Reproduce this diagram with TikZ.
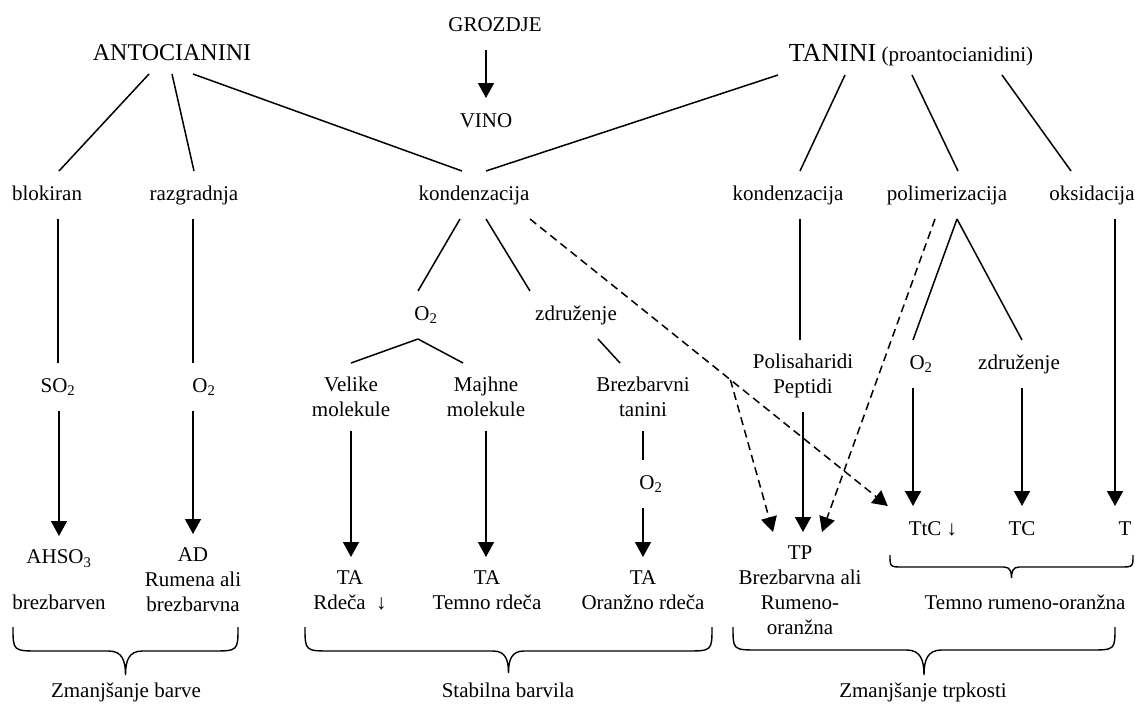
\documentclass[tikz,border=0pt]{standalone}
\usepackage{fontspec}
\setmainfont{Liberation Serif}
\usetikzlibrary{arrows.meta}
% zaviti oklepaj: x1, x2, vrh, sredina, konica
\newcommand{\oklepaj}[5]{%
	\pgfmathsetmacro\okS{(#1+#2)/2}
	\pgfmathsetmacro\okR{1.1*(#4-#3)}
	\pgfmathsetmacro\okQ{0.7*(#5-#4)}
	\draw[zavit] (#1,#3) .. controls (#1,#4) .. ({#1+\okR},#4) -- ({\okS-\okQ},#4)
		.. controls ({\okS-0.2*\okQ},#4) and (\okS,{#4+0.4*(#5-#4)}) .. (\okS,#5)
		.. controls (\okS,{#4+0.4*(#5-#4)}) and ({\okS+0.2*\okQ},#4) .. ({\okS+\okQ},#4)
		-- ({#2-\okR},#4) .. controls (#2,#4) .. (#2,#3);}
\begin{document}
\begin{tikzpicture}[x=1pt,y=-1pt,line width=1.5pt,
	every node/.style={font=\fontsize{21}{25}\selectfont,inner sep=0pt,outer xsep=0pt,outer ysep=14pt},
	lbl/.style={anchor=base,text height=15pt,text depth=5pt}, % ena vrstica
	blk/.style={anchor=north,align=center}, % vec vrstic
	puscica/.style={-{Triangle[width=16pt,length=15pt]}},
	crtkano/.style={dash pattern=on 8pt off 5pt},
	zavit/.style={line width=1.4pt}]
	\useasboundingbox (0,0) rectangle (1135,707);
	% vrh
	\node[lbl] (groz) at (495,31) {GROZDJE};
	\node[lbl] (vino) at (486,127) {VINO};
	\node[lbl,text depth=0pt,font=\fontsize{24}{28}\selectfont] (ant) at (172,60) {ANTOCIANINI};
	\node[lbl,text depth=0pt] (tan) at (911,61) {{\fontsize{26}{30}\selectfont TANINI} (proantocianidini)};
	% prva raven
	\node[lbl] (blok) at (47,200) {blokiran};
	\node[lbl] (razg) at (194,200) {razgradnja};
	\node[lbl] (kondA) at (474,200) {kondenzacija};
	\node[lbl] (kondT) at (788,200) {kondenzacija};
	\node[lbl] (polim) at (947,200) {polimerizacija};
	\node[lbl] (oks) at (1092,200) {oksidacija};
	% druga raven
	\node[lbl] (so2) at (58,392) {SO\textsubscript{2}};
	\node[lbl] (o2a) at (204,392) {O\textsubscript{2}};
	\node[lbl] (o2b) at (426,320) {O\textsubscript{2}};
	\node[lbl] (zdr) at (576,320) {združenje};
	\node[blk] (vel) at (351,363) {Velike\\molekule};
	\node[blk] (maj) at (486,363) {Majhne\\molekule};
	\node[blk] (brez) at (643,363) {Brezbarvni\\tanini};
	\node[lbl] (o2d) at (651,489) {O\textsubscript{2}};
	\node[blk] (poli) at (803,340) {Polisaharidi\\Peptidi};
	\node[lbl] (o2c) at (921,369) {O\textsubscript{2}};
	\node[lbl] (zdr2) at (1019,369) {združenje};
	% produkti
	\node[blk] (ahso) at (59,536) {AHSO\textsubscript{3}\\[21pt]brezbarven};
	\node[blk] (ad) at (193,534) {AD\\Rumena ali\\brezbarvna};
	\node[blk] (ta1) at (350,557) {TA\\Rdeča~~↓};
	\node[blk] (ta2) at (487,557) {TA\\Temno rdeča};
	\node[blk] (ta3) at (643,557) {TA\\Oranžno rdeča};
	\node[blk] (tp) at (800,532) {TP\\Brezbarvna ali\\Rumeno-\\oranžna};
	\node[lbl] (ttc) at (933,535) {TtC ↓};
	\node[lbl] (tc) at (1022,535) {TC};
	\node[lbl] (tt) at (1125,535) {T};
	\node[lbl] (temno) at (1025,609) {Temno rumeno-oranžna};
	\node[lbl] (zb) at (126,697) {Zmanjšanje barve};
	\node[lbl] (sb) at (508,697) {Stabilna barvila};
	\node[lbl] (zt) at (923,697) {Zmanjšanje trpkosti};
	% povezave zgoraj
	\draw[puscica] (groz.south -| vino.north) -- (vino.north);
	\draw ([xshift=-23pt]ant.south) -- ([xshift=12pt]blok.north);
	\draw (ant.south) -- (razg.north);
	\draw ([xshift=21pt]ant.south) -- ([xshift=-12pt]kondA.north);
	\draw ([xshift=-133pt]tan.south) -- ([xshift=12pt]kondA.north);
	\draw ([xshift=-66pt]tan.south) -- ([xshift=12pt]kondT.north);
	\draw ([xshift=1pt]tan.south) -- ([xshift=11pt]polim.north);
	\draw ([xshift=91pt]tan.south) -- ([xshift=-21pt]oks.north);
	% antocianini
	\draw (blok.south -| so2.north) -- (so2.north);
	\draw (razg.south -| ad.north) -- (o2a.north -| ad.north);
	\draw[puscica] (so2.south -| ahso.north) -- (ahso.north);
	\draw[puscica] (o2a.south -| ad.north) -- (ad.north);
	% kondenzacija levo
	\draw ([xshift=-14pt]kondA.south) -- ([xshift=-8pt]o2b.north);
	\draw ([xshift=12pt]kondA.south) -- ([xshift=-46pt]zdr.north);
	\draw ([xshift=-8pt]o2b.south) -- (vel.north);
	\draw ([xshift=-8pt]o2b.south) -- ([xshift=-23pt]maj.north);
	\draw ([xshift=22pt]zdr.south) -- ([xshift=-23pt]brez.north);
	\draw[puscica] (vel.south) -- (vel.south |- ta1.north);
	\draw[puscica] (maj.south) -- (maj.south |- ta2.north);
	\draw (brez.south) -- (brez.south |- o2d.north);
	\draw[puscica] (o2d.south -| ta3.north) -- (ta3.north);
	% tanini
	\draw ([xshift=12pt]kondT.south) -- ([xshift=12pt]kondT.south |- poli.north);
	\draw[puscica] (poli.south) -- (poli.south |- tp.north);
	\draw ([xshift=10pt]polim.south) -- ([xshift=-8pt]o2c.north);
	\draw ([xshift=10pt]polim.south) -- (zdr2.north -| tc.north);
	\draw[puscica] ([xshift=-8pt]o2c.south) -- ([xshift=-8pt]o2c.south |- ttc.north);
	\draw[puscica] (zdr2.south -| tc.north) -- (tc.north);
	\draw[puscica] ([xshift=23pt]oks.south) -- ([xshift=23pt]oks.south |- tt.north);
	% crtkane
	\draw[crtkano,puscica] ([xshift=56pt]kondA.south) -- coordinate[pos=0.56] (razcep) ([xshift=-21pt]ttc.north west);
	\draw[crtkano,puscica] (razcep) -- ([xshift=-27pt]tp.north);
	\draw[crtkano,puscica] ([xshift=-12pt]polim.south) -- ([xshift=22pt]tp.north);
	% oklepaji
	\oklepaj{13}{238}{627}{651}{675}
	\oklepaj{305}{712}{627}{651}{673}
	\oklepaj{733}{1115}{627}{650}{675}
	\oklepaj{890}{1133}{555}{567}{578}
\end{tikzpicture}
\end{document}
